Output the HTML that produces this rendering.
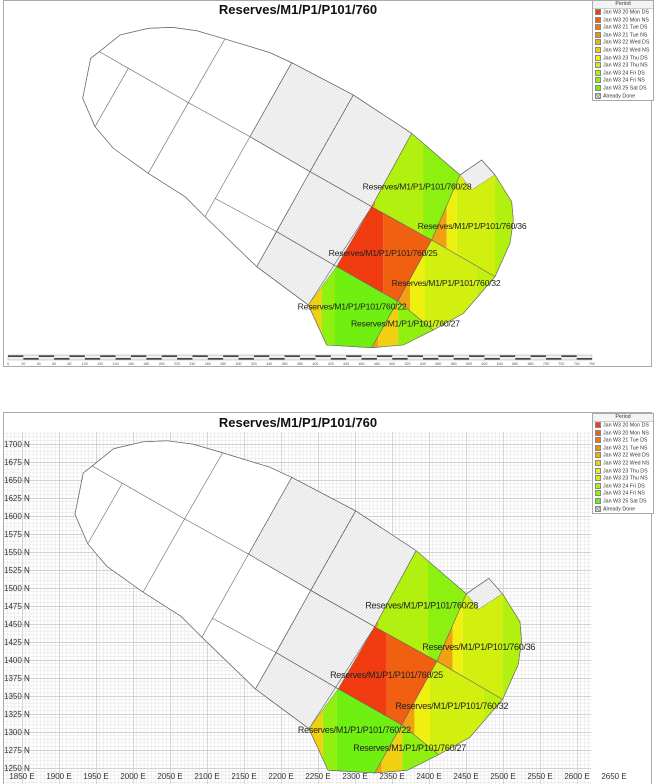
<!DOCTYPE html>
<html><head><meta charset="utf-8">
<style>
body{margin:0;width:655px;height:784px;background:#fff;overflow:hidden;font-family:"Liberation Sans",sans-serif;position:relative}
.leg{position:absolute;left:592px;width:60px;border:1px solid #aaa;background:#fff;font-size:5.3px;color:#333}
.leg .h{text-align:center;border-bottom:1px solid #ccc;height:7px;line-height:7px;background:#f4f4f4}
.leg .r{height:7.6px;line-height:7.6px;padding-left:2px;white-space:nowrap}
.leg .s{display:inline-block;width:6px;height:6px;border:1px solid #888;vertical-align:-1.5px;margin-right:2px;box-sizing:border-box}
</style></head><body>
<svg width="655" height="784" style="position:absolute;left:0;top:0" font-family="Liberation Sans, sans-serif">
<defs>
<pattern id="hatch" patternUnits="userSpaceOnUse" width="6" height="6" patternTransform="rotate(-40)">
<rect width="6" height="6" fill="#f7f7f7"/><line x1="0" y1="0" x2="6" y2="0" stroke="#aaa" stroke-width="1.4"/></pattern>
<pattern id="grid" patternUnits="userSpaceOnUse" x="22" y="444" width="37" height="18">
<g stroke="#e6e6e6" stroke-width="0.6">
<line x1="3.7" y1="0" x2="3.7" y2="18"/><line x1="7.4" y1="0" x2="7.4" y2="18"/><line x1="11.1" y1="0" x2="11.1" y2="18"/><line x1="14.8" y1="0" x2="14.8" y2="18"/><line x1="18.5" y1="0" x2="18.5" y2="18"/><line x1="22.2" y1="0" x2="22.2" y2="18"/><line x1="25.9" y1="0" x2="25.9" y2="18"/><line x1="29.6" y1="0" x2="29.6" y2="18"/><line x1="33.3" y1="0" x2="33.3" y2="18"/>
<line x1="0" y1="3.6" x2="37" y2="3.6"/><line x1="0" y1="7.2" x2="37" y2="7.2"/><line x1="0" y1="10.8" x2="37" y2="10.8"/><line x1="0" y1="14.4" x2="37" y2="14.4"/>
</g>
<g stroke="#c4c4c4" stroke-width="0.8"><line x1="0.3" y1="0" x2="0.3" y2="18"/><line x1="0" y1="0.3" x2="37" y2="0.3"/></g>
</pattern>
<clipPath id="c28"><polygon points="1055,400 1205,530 1115,720 935,620"/></clipPath>
<clipPath id="c36"><polygon points="1200,525 1235,570 1305,525 1355,605 1360,660 1350,730 1305,830 1115,720"/></clipPath>
<clipPath id="c25"><polygon points="935,620 1115,720 1015,905 830,800"/></clipPath>
<clipPath id="c22"><polygon points="830,800 1015,905 935,1043 800,1035 745,915"/></clipPath>
<clipPath id="c32"><polygon points="1115,720 1305,830 1210,940 1120,990 1015,905"/></clipPath>
<clipPath id="c27"><polygon points="1015,905 1120,990 1030,1035 935,1043"/></clipPath>
<g id="map">
<g stroke="#666" stroke-width="0.6">
<polygon fill="#fff" points="118,155 180,105 265,85 335,82 410,92 495,117 630,158 695,188 880,285 1055,400 1200,525 1265,480 1305,525 1355,605 1360,660 1350,730 1305,830 1210,940 1120,990 1030,1035 935,1043 800,1035 745,915 590,800 435,650 375,590 265,520 160,445 105,380 68,295 92,175" vector-effect="non-scaling-stroke"/>
<polygon fill="url(#hatch)" points="695,188 880,285 750,515 570,410" vector-effect="non-scaling-stroke"/>
<polygon fill="url(#hatch)" points="880,285 1055,400 935,620 750,515" vector-effect="non-scaling-stroke"/>
<polygon fill="url(#hatch)" points="750,515 935,620 830,800 650,695" vector-effect="non-scaling-stroke"/>
<polygon fill="url(#hatch)" points="650,695 830,800 745,915 590,800" vector-effect="non-scaling-stroke"/>
<polygon fill="url(#hatch)" points="1200,525 1265,480 1305,525 1235,570" vector-effect="non-scaling-stroke"/>
</g>
<g clip-path="url(#c28)"><rect x="900" y="380" width="200" height="360" fill="#b2f010"/><rect x="1090" y="380" width="130" height="360" fill="#8cf010"/><rect x="925" y="580" width="20" height="40" fill="#f09010"/></g>
<g clip-path="url(#c36)"><rect x="1100" y="500" width="60" height="340" fill="#f0a010"/><rect x="1160" y="500" width="30" height="340" fill="#f0f010"/><rect x="1190" y="500" width="115" height="340" fill="#d2f010"/><rect x="1305" y="500" width="60" height="340" fill="#b2f010"/></g>
<g clip-path="url(#c25)"><rect x="820" y="600" width="150" height="320" fill="#f03c10"/><rect x="970" y="600" width="150" height="320" fill="#f06010"/></g>
<g clip-path="url(#c22)"><rect x="740" y="790" width="45" height="260" fill="#f0d010"/><rect x="785" y="790" width="40" height="260" fill="#90f010"/><rect x="825" y="790" width="200" height="260" fill="#70f010"/></g>
<g clip-path="url(#c32)"><rect x="1010" y="710" width="40" height="290" fill="#f0a010"/><rect x="1050" y="710" width="45" height="290" fill="#f0f010"/><rect x="1095" y="710" width="155" height="290" fill="#d2f010"/><rect x="1250" y="710" width="60" height="290" fill="#c0f010"/></g>
<g clip-path="url(#c27)"><rect x="930" y="900" width="25" height="150" fill="#f0a010"/><rect x="955" y="900" width="60" height="150" fill="#f0d010"/><rect x="1015" y="900" width="110" height="150" fill="#90f010"/></g>
<g fill="none" stroke="#666" stroke-width="0.6">
<polyline vector-effect="non-scaling-stroke" points="118,155 385,308 570,410 750,515 935,620 1115,720 1305,830"/>
<polyline vector-effect="non-scaling-stroke" points="465,595 650,695 830,800 1015,905 1120,990"/>
<polyline vector-effect="non-scaling-stroke" points="105,380 205,205"/>
<polyline vector-effect="non-scaling-stroke" points="265,520 385,308 495,117"/>
<polyline vector-effect="non-scaling-stroke" points="435,650 570,410 695,188"/>
<polyline vector-effect="non-scaling-stroke" points="590,800 750,515 880,285"/>
<polyline vector-effect="non-scaling-stroke" points="745,915 935,620 1055,400"/>
<polyline vector-effect="non-scaling-stroke" points="935,1043 1115,720 1200,525"/>
<polygon vector-effect="non-scaling-stroke" points="118,155 180,105 265,85 335,82 410,92 495,117 630,158 695,188 880,285 1055,400 1200,525 1265,480 1305,525 1355,605 1360,660 1350,730 1305,830 1210,940 1120,990 1030,1035 935,1043 800,1035 745,915 590,800 435,650 375,590 265,520 160,445 105,380 68,295 92,175"/>
</g>
</g>
</defs>

<!-- TOP PANEL -->
<rect x="3.5" y="0.5" width="648" height="366" fill="#fff" stroke="#aaa"/>
<text x="298" y="14" font-size="13" font-weight="bold" text-anchor="middle" fill="#111">Reserves/M1/P1/P101/760</text>
<use href="#map" transform="translate(60,0) scale(0.33333)"/>
<g transform="translate(60,0) scale(0.33333)" font-size="26" fill="#222">
<text x="908" y="568" textLength="327">Reserves/M1/P1/P101/760/28</text>
<text x="1073" y="687" textLength="327">Reserves/M1/P1/P101/760/36</text>
<text x="806" y="768" textLength="327">Reserves/M1/P1/P101/760/25</text>
<text x="995" y="858" textLength="327">Reserves/M1/P1/P101/760/32</text>
<text x="713" y="928" textLength="327">Reserves/M1/P1/P101/760/22</text>
<text x="873" y="980" textLength="327">Reserves/M1/P1/P101/760/27</text>
</g>
<!-- scale bar -->
<rect x="8" y="355" width="584" height="5" fill="#eee" stroke="#999" stroke-width="0.4"/>
<line x1="8" y1="356.2" x2="592" y2="356.2" stroke="#444" stroke-width="1.6" stroke-dasharray="15.37 15.37"/>
<line x1="23.37" y1="358.8" x2="592" y2="358.8" stroke="#444" stroke-width="1.6" stroke-dasharray="15.37 15.37"/>
<g font-size="3.6" fill="#555" text-anchor="middle">
<text x="8" y="365">0</text><text x="23.4" y="365">20</text><text x="38.7" y="365">40</text><text x="54.1" y="365">60</text><text x="69.5" y="365">80</text><text x="84.8" y="365">100</text><text x="100.2" y="365">120</text><text x="115.6" y="365">140</text><text x="131" y="365">160</text><text x="146.3" y="365">180</text><text x="161.7" y="365">200</text><text x="177.1" y="365">220</text><text x="192.4" y="365">240</text><text x="207.8" y="365">260</text><text x="223.2" y="365">280</text><text x="238.5" y="365">300</text><text x="253.9" y="365">320</text><text x="269.3" y="365">340</text><text x="284.7" y="365">360</text><text x="300" y="365">380</text><text x="315.4" y="365">400</text><text x="330.8" y="365">420</text><text x="346.1" y="365">440</text><text x="361.5" y="365">460</text><text x="376.9" y="365">480</text><text x="392.2" y="365">500</text><text x="407.6" y="365">520</text><text x="423" y="365">540</text><text x="438.4" y="365">560</text><text x="453.7" y="365">580</text><text x="469.1" y="365">600</text><text x="484.5" y="365">620</text><text x="499.8" y="365">640</text><text x="515.2" y="365">660</text><text x="530.6" y="365">680</text><text x="545.9" y="365">700</text><text x="561.3" y="365">720</text><text x="576.7" y="365">740</text><text x="592" y="365">760</text>
</g>

<!-- BOTTOM PANEL -->
<rect x="3.5" y="412.5" width="648" height="372" fill="#fff" stroke="#aaa"/>
<rect x="4" y="432" width="587" height="352" fill="url(#grid)"/>
<text x="298" y="427" font-size="13" font-weight="bold" text-anchor="middle" fill="#111">Reserves/M1/P1/P101/760</text>
<use href="#map" transform="translate(51.46,412.4) scale(0.3457)"/>
<g transform="translate(51.46,412.4) scale(0.3457)" font-size="26" fill="#222">
<text x="908" y="568" textLength="327">Reserves/M1/P1/P101/760/28</text>
<text x="1073" y="687" textLength="327">Reserves/M1/P1/P101/760/36</text>
<text x="806" y="768" textLength="327">Reserves/M1/P1/P101/760/25</text>
<text x="995" y="858" textLength="327">Reserves/M1/P1/P101/760/32</text>
<text x="713" y="928" textLength="327">Reserves/M1/P1/P101/760/22</text>
<text x="873" y="980" textLength="327">Reserves/M1/P1/P101/760/27</text>
</g>
<g font-size="8" fill="#333">
<text x="4" y="447">1700 N</text><text x="4" y="465">1675 N</text><text x="4" y="483">1650 N</text><text x="4" y="501">1625 N</text><text x="4" y="519">1600 N</text><text x="4" y="537">1575 N</text><text x="4" y="555">1550 N</text><text x="4" y="573">1525 N</text><text x="4" y="591">1500 N</text><text x="4" y="609">1475 N</text><text x="4" y="627">1450 N</text><text x="4" y="645">1425 N</text><text x="4" y="663">1400 N</text><text x="4" y="681">1375 N</text><text x="4" y="699">1350 N</text><text x="4" y="717">1325 N</text><text x="4" y="735">1300 N</text><text x="4" y="753">1275 N</text><text x="4" y="771">1250 N</text>
</g>
<g font-size="8" fill="#333" text-anchor="middle">
<text x="22" y="779">1850 E</text><text x="59" y="779">1900 E</text><text x="96" y="779">1950 E</text><text x="133" y="779">2000 E</text><text x="170" y="779">2050 E</text><text x="207" y="779">2100 E</text><text x="244" y="779">2150 E</text><text x="281" y="779">2200 E</text><text x="318" y="779">2250 E</text><text x="355" y="779">2300 E</text><text x="392" y="779">2350 E</text><text x="429" y="779">2400 E</text><text x="466" y="779">2450 E</text><text x="503" y="779">2500 E</text><text x="540" y="779">2550 E</text><text x="577" y="779">2600 E</text><text x="614" y="779">2650 E</text>
</g>
</svg>

<div class="leg" style="top:0px">
<div class="h">Period</div>
<div class="r"><span class="s" style="background:#f03c10"></span>Jan W3 20 Mon DS</div>
<div class="r"><span class="s" style="background:#f06010"></span>Jan W3 20 Mon NS</div>
<div class="r"><span class="s" style="background:#f07810"></span>Jan W3 21 Tue DS</div>
<div class="r"><span class="s" style="background:#f09010"></span>Jan W3 21 Tue NS</div>
<div class="r"><span class="s" style="background:#f0b010"></span>Jan W3 22 Wed DS</div>
<div class="r"><span class="s" style="background:#f0d010"></span>Jan W3 22 Wed NS</div>
<div class="r"><span class="s" style="background:#f0f010"></span>Jan W3 23 Thu DS</div>
<div class="r"><span class="s" style="background:#d0f010"></span>Jan W3 23 Thu NS</div>
<div class="r"><span class="s" style="background:#b0f010"></span>Jan W3 24 Fri DS</div>
<div class="r"><span class="s" style="background:#90f010"></span>Jan W3 24 Fri NS</div>
<div class="r"><span class="s" style="background:#70f010"></span>Jan W3 25 Sat DS</div>
<div class="r"><span class="s" style="background:repeating-linear-gradient(45deg,#888 0 1px,#eee 1px 2px)"></span>Already Done</div>
</div>
<div class="leg" style="top:413px">
<div class="h">Period</div>
<div class="r"><span class="s" style="background:#f03c10"></span>Jan W3 20 Mon DS</div>
<div class="r"><span class="s" style="background:#f06010"></span>Jan W3 20 Mon NS</div>
<div class="r"><span class="s" style="background:#f07810"></span>Jan W3 21 Tue DS</div>
<div class="r"><span class="s" style="background:#f09010"></span>Jan W3 21 Tue NS</div>
<div class="r"><span class="s" style="background:#f0b010"></span>Jan W3 22 Wed DS</div>
<div class="r"><span class="s" style="background:#f0d010"></span>Jan W3 22 Wed NS</div>
<div class="r"><span class="s" style="background:#f0f010"></span>Jan W3 23 Thu DS</div>
<div class="r"><span class="s" style="background:#d0f010"></span>Jan W3 23 Thu NS</div>
<div class="r"><span class="s" style="background:#b0f010"></span>Jan W3 24 Fri DS</div>
<div class="r"><span class="s" style="background:#90f010"></span>Jan W3 24 Fri NS</div>
<div class="r"><span class="s" style="background:#70f010"></span>Jan W3 25 Sat DS</div>
<div class="r"><span class="s" style="background:repeating-linear-gradient(45deg,#888 0 1px,#eee 1px 2px)"></span>Already Done</div>
</div>
</body></html>
